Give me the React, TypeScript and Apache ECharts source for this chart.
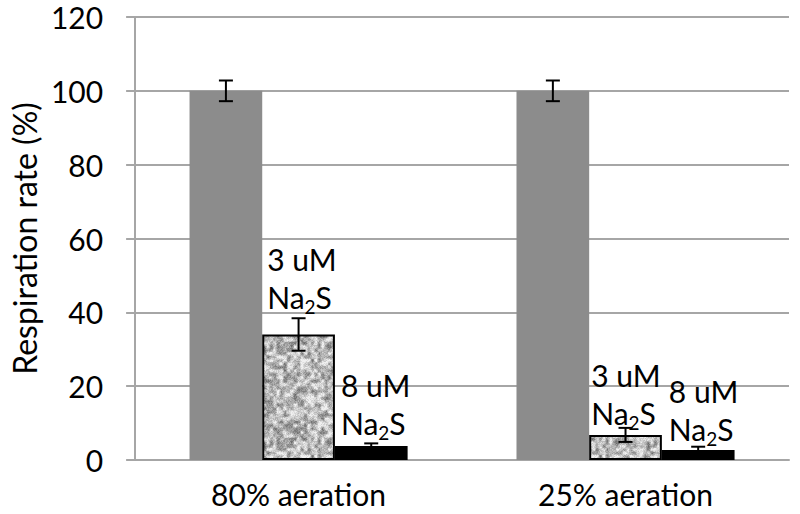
import React, { useEffect, useRef } from "react";
import * as echarts from "echarts";

const categories = ["80% aeration", "25% aeration"];
const controlValues = [100, 100];
const controlErrors = [2.8, 2.8];
const na3Values = [34.0, 6.8];
const na3Errors = [4.4, 1.9];
const na8Values = [3.8, 2.7];
const na8Errors = [0.7, 0.9];
const yTicks = { min: 0, max: 120, interval: 20 };

const FONT = "Lato";
const FS = 30;

function makeTexture(): HTMLCanvasElement {
  const size = 96;
  const c = document.createElement("canvas");
  c.width = size;
  c.height = size;
  const ctx = c.getContext("2d")!;
  let seed = 12345;
  const rnd = () => {
    seed = (seed * 1103515245 + 12345) & 0x7fffffff;
    return seed / 0x7fffffff;
  };
  const g = 28;
  const grid: number[] = [];
  for (let i = 0; i < g * g; i++) grid.push(rnd());
  const at = (x: number, y: number) => grid[((y + g) % g) * g + ((x + g) % g)];
  const img = ctx.createImageData(size, size);
  for (let y = 0; y < size; y++) {
    for (let x = 0; x < size; x++) {
      const fx = (x / size) * g;
      const fy = (y / size) * g;
      const x0 = Math.floor(fx);
      const y0 = Math.floor(fy);
      const tx = fx - x0;
      const ty = fy - y0;
      const sx = tx * tx * (3 - 2 * tx);
      const sy = ty * ty * (3 - 2 * ty);
      const a = at(x0, y0) * (1 - sx) + at(x0 + 1, y0) * sx;
      const b = at(x0, y0 + 1) * (1 - sx) + at(x0 + 1, y0 + 1) * sx;
      const v = a * (1 - sy) + b * sy;
      const n = rnd();
      let col = 120 + v * 130 + (n - 0.5) * 45;
      col = Math.max(80, Math.min(240, col));
      const idx = (y * size + x) * 4;
      img.data[idx] = col;
      img.data[idx + 1] = col;
      img.data[idx + 2] = col;
      img.data[idx + 3] = 255;
    }
  }
  ctx.putImageData(img, 0, 0);
  return c;
}

const richStyles = {
  t: { fontFamily: FONT, fontSize: FS, color: "#000", lineHeight: 38 },
  s: { fontFamily: FONT, fontSize: 19, color: "#000", lineHeight: 17, verticalAlign: "bottom" as const },
};
const labelText = (c: string) => `{t|${c}}\n{t|Na}{s|2}{t|S}`;

export default function App() {
  const ref = useRef<HTMLDivElement>(null);
  useEffect(() => {
    const chart = echarts.init(ref.current!, null, { renderer: "svg" });
    const tex = makeTexture();
    const errData = (vals: number[], errs: number[], s: number) =>
      vals.map((v, i) => [i, v, errs[i], s]);
    const gap = 1 / 3;
    const option: any = {
      animation: false,
      backgroundColor: "#fff",
      grid: { left: 132, right: 11, top: 17, bottom: 54, containLabel: false },
      xAxis: {
        type: "category",
        data: categories,
        axisTick: { show: false },
        axisLine: { lineStyle: { color: "#a6a6a6", width: 2 } },
        axisLabel: { color: "#000", fontFamily: FONT, fontSize: FS, margin: 19 },
      },
      yAxis: {
        type: "value",
        min: yTicks.min,
        max: yTicks.max,
        interval: yTicks.interval,
        name: "Respiration rate (%)",
        nameLocation: "middle",
        nameGap: 88,
        nameTextStyle: { color: "#000", fontFamily: FONT, fontSize: 32 },
        axisLine: { show: true, lineStyle: { color: "#a6a6a6", width: 2 } },
        axisTick: { show: true, length: 9, lineStyle: { color: "#a6a6a6", width: 2 } },
        splitLine: { lineStyle: { color: "#a6a6a6", width: 2 } },
        axisLabel: { color: "#000", fontFamily: FONT, fontSize: FS, margin: 32 },
      },
      series: [
        {
          type: "bar",
          data: controlValues,
          barGap: "0%",
          barCategoryGap: "33.3%",
          itemStyle: { color: "#8c8c8c" },
        },
        {
          type: "bar",
          data: na3Values.map((v, i) => ({
            value: v,
            label: {
              show: true,
              position: i === 0 ? [5, -94] : [2, -79],
              formatter: labelText("3 uM"),
              rich: richStyles,
            },
          })),
          itemStyle: {
            color: { image: tex, repeat: "repeat", imageWidth: 96, imageHeight: 96 },
            borderColor: "#000",
            borderWidth: 2,
          },
        },
        {
          type: "bar",
          data: na8Values.map((v, i) => ({
            value: v,
            label: {
              show: true,
              position: i === 0 ? [6, -80] : [7, -78],
              formatter: labelText("8 uM"),
              rich: richStyles,
            },
          })),
          itemStyle: { color: "#000" },
        },
        {
          type: "custom",
          z: 10,
          data: [
            ...errData(controlValues, controlErrors, 0),
            ...errData(na3Values, na3Errors, 1),
            ...errData(na8Values, na8Errors, 2),
          ],
          encode: { x: 0, y: 1 },
          renderItem: (params: any, api: any) => {
            const ci = api.value(0);
            const v = api.value(1);
            const e = api.value(2);
            const s = api.value(3);
            const band = api.size([1, 0])[0];
            const barW = (band * (1 - gap)) / 3;
            const c = api.coord([ci, v]);
            const x = c[0] + (s - 1) * barW;
            const yt = api.coord([ci, v + e])[1];
            const yb = api.coord([ci, v - e])[1];
            const hw = 7;
            const st = { stroke: "#000", lineWidth: 2 };
            return {
              type: "group",
              children: [
                { type: "line", shape: { x1: x, y1: yt, x2: x, y2: yb }, style: st },
                { type: "line", shape: { x1: x - hw, y1: yt, x2: x + hw, y2: yt }, style: st },
                { type: "line", shape: { x1: x - hw, y1: yb, x2: x + hw, y2: yb }, style: st },
              ],
            };
          },
        },
      ],
    };
    chart.setOption(option);
    return () => chart.dispose();
  }, []);
  return (
    <div
      ref={ref}
      style={{ position: "absolute", left: 0, top: 0, width: 800, height: 514 }}
    />
  );
}
